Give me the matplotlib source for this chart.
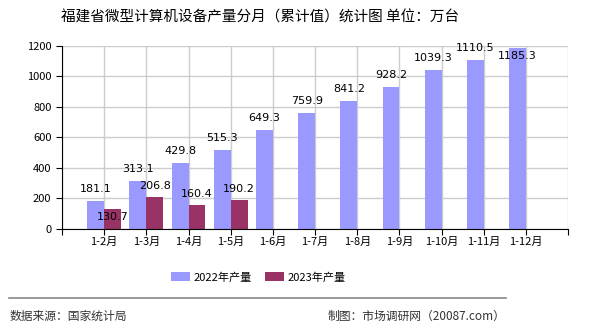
import matplotlib.pyplot as plt
import numpy as np

plt.rcParams['font.family'] = ['Noto Sans CJK SC', 'DejaVu Sans']

months = ["1-2月", "1-3月", "1-4月", "1-5月", "1-6月", "1-7月", "1-8月",
          "1-9月", "1-10月", "1-11月", "1-12月"]
output_2022 = [181.1, 313.1, 429.8, 515.3, 649.3, 759.9, 841.2, 928.2,
               1039.3, 1110.5, 1185.3]
output_2023 = [130.7, 206.8, 160.4, 190.2]

fig = plt.figure(figsize=(5.9, 3.3), dpi=100)
ax = fig.add_axes([0.105, 0.306, 0.858, 0.555])

x = np.arange(1, len(months) + 1)
w = 0.4
b1 = ax.bar(x[:len(output_2022)] - w / 2, output_2022, w, color="#9999FF",
            label="2022年产量", zorder=3)
b2 = ax.bar(x[:len(output_2023)] + w / 2, output_2023, w, color="#993366",
            label="2023年产量", zorder=3)

# value labels; a couple sit inside the bar to avoid clashes
for rect, v in zip(b1, output_2022):
    dy = -8 if v > 1150 else 12
    ax.annotate(f"{v:.1f}", (rect.get_x() + rect.get_width() / 2, v),
                xytext=(0, dy), textcoords="offset pixels", ha="center",
                va="center", fontsize=8, family="DejaVu Sans", zorder=5)
for i, (rect, v) in enumerate(zip(b2, output_2023)):
    dy = -8 if i == 0 else 11
    ax.annotate(f"{v:.1f}", (rect.get_x() + rect.get_width() / 2, v),
                xytext=(0, dy), textcoords="offset pixels", ha="center",
                va="center", fontsize=8, family="DejaVu Sans", zorder=5)

ax.set_xlim(0, 12)
ax.set_ylim(0, 1200)
ax.set_xticks(np.arange(0, 13))
ax.set_xticklabels([""] + months + [""], fontsize=8)
ax.set_yticks(np.arange(0, 1201, 200))
ax.tick_params(axis="y", labelsize=8, length=4, width=0.8)
ax.tick_params(axis="x", length=4, width=0.8, pad=2)
ax.grid(True, color="#CCCCCC", linewidth=1, zorder=0)
for s in ["top", "right"]:
    ax.spines[s].set_visible(False)
for s in ["left", "bottom"]:
    ax.spines[s].set_color("black")
    ax.spines[s].set_zorder(4)

fig.text(0.441, 0.948, "福建省微型计算机设备产量分月（累计值）统计图 单位：万台",
         ha="center", va="center", fontsize=10.5)

fig.legend(handles=[b1, b2], loc="center", bbox_to_anchor=(0.438, 0.16),
           ncol=2, frameon=False, fontsize=8, handlelength=1.7,
           handleheight=0.9, columnspacing=1.2, handletextpad=0.3)

fig.add_artist(plt.Line2D([0.015, 0.858], [0.097, 0.097], color="#888888",
                          linewidth=1.2, transform=fig.transFigure))
fig.text(0.017, 0.042, "数据来源：国家统计局", ha="left", va="center",
         fontsize=8.5, color="#333333")
fig.text(0.857, 0.042, "制图：市场调研网（20087.com）", ha="right",
         va="center", fontsize=8.5, color="#333333")

fig.savefig("out.png", dpi=100)
